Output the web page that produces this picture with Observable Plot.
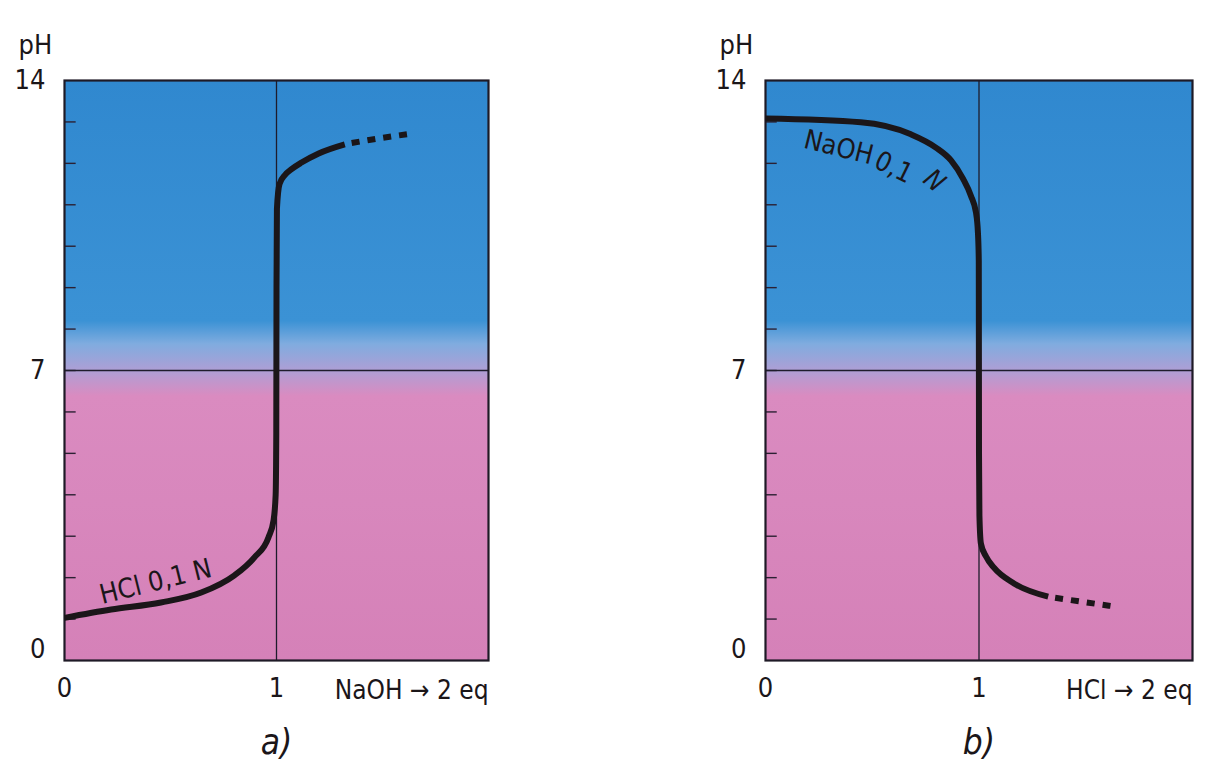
<!DOCTYPE html>
<html><head><meta charset="utf-8">
<script src="https://cdn.jsdelivr.net/npm/d3@7"></script>
<script src="https://cdn.jsdelivr.net/npm/@observablehq/plot@0.6"></script>
<style>
html,body{margin:0;padding:0;background:#fff;}
#wrap{display:flex;width:1218px;height:763px;overflow:hidden;}
#wrap svg{display:block;flex:none;}
</style></head><body><div id="wrap"></div>
<script>
// ---- data (equivalents of titrant added, pH) ----
const aSolidEq = [0, 0.22, 0.455, 0.645, 0.80, 0.896, 0.962, 0.986, 0.996, 0.999, 1.0, 1.002, 1.014, 1.04, 1.071, 1.118, 1.199, 1.322];
const aSolidPH = [1.03, 1.23, 1.40, 1.64, 2.05, 2.49, 2.97, 3.38, 4.0, 5.5, 9.0, 10.9, 11.5, 11.72, 11.86, 12.02, 12.24, 12.46];
const aDashEq  = [1.322, 1.48, 1.64];
const aDashPH  = [12.46, 12.6, 12.72];

const bSolidEq = [0, 0.446, 0.681, 0.798, 0.869, 0.925, 0.962, 0.986, 0.995, 0.999, 1.0, 1.002, 1.009, 1.033, 1.07, 1.164, 1.324];
const bSolidPH = [13.08, 12.99, 12.70, 12.38, 12.07, 11.63, 11.22, 10.81, 10.33, 9.65, 5.0, 3.5, 2.82, 2.51, 2.24, 1.86, 1.54];
const bDashEq  = [1.324, 1.48, 1.64];
const bDashPH  = [1.54, 1.42, 1.30];

const pHTicks = [1, 2, 3, 4, 5, 6, 7, 8, 9, 10, 11, 12, 13];
const pHLabels = [14, 7];
const eqLabels = [0, 1];

const FONT = '"Liberation Sans Narrow","DejaVu Sans Condensed","Roboto Condensed","Liberation Sans",sans-serif';
const INK = "#1b1619";

const rows = (xs, ys) => xs.map((x, i) => ({eq: x, pH: ys[i]}));

function panel(o) {
  const svg = Plot.plot({
    width: 609, height: 763,
    marginTop: 80, marginBottom: 103, marginLeft: o.ml, marginRight: o.mr,
    x: {domain: [0, 2], axis: null},
    y: {domain: [0, 14], axis: null},
    style: {fontFamily: FONT, color: INK, background: "transparent", overflow: "visible"},
    marks: [
      Plot.rect([0], {x1: 0, x2: 2, y1: 0, y2: 14, fill: `url(#${o.id}-grad)`}),
      Plot.ruleY(pHTicks, {x1: 0, x2: 0.055, stroke: "#2b2033", strokeWidth: 1.4}),
      Plot.ruleY([7], {stroke: "#1e1c2c", strokeWidth: 1.3}),
      Plot.ruleX([1], {stroke: "#1e1c2c", strokeWidth: 1.3}),
      Plot.frame({stroke: "#1e1a26", strokeWidth: 2.2}),
      Plot.line(o.solid, {x: "eq", y: "pH", curve: "monotone-x", stroke: INK, strokeWidth: 6, strokeLinecap: "butt"}),
      Plot.line(o.dash, {x: "eq", y: "pH", curve: "monotone-x", stroke: INK, strokeWidth: 6, strokeDasharray: "8,8", strokeDashoffset: -7, strokeLinecap: "butt"}),
      Plot.text(pHLabels, {x: 0, y: d => d, text: d => String(d), textAnchor: "end", dx: -19, dy: 0, fontSize: 27, fill: INK}),
      Plot.text([0], {x: 0, y: d => d, text: d => String(d), textAnchor: "end", dx: -19, dy: -11, fontSize: 27, fill: INK}),
      Plot.text(["pH"], {x: 0, y: 14, text: d => d, textAnchor: "start", dx: -46, dy: -35, fontSize: 27, fill: INK}),
      Plot.text(eqLabels, {x: d => d, y: 0, text: d => String(d), dy: 28, fontSize: 27, fill: INK}),
      Plot.text([o.xLabel], {x: 2, y: 0, text: d => d, textAnchor: "end", dy: 30, fontSize: 26, fill: INK}),
      Plot.text([o.letter], {x: 1, y: 0, text: d => d, dy: 82, fontSize: 35, fontStyle: "italic", fill: INK}),
      Plot.text(o.curveLabel.filter(d => !d.it), {x: "x", y: "y", text: "t", rotate: "r", fontSize: 27, fill: INK}),
      Plot.text(o.curveLabel.filter(d => d.it), {x: "x", y: "y", text: "t", rotate: "r", fontSize: 27, fontStyle: "italic", fill: INK})
    ]
  });
  const root = svg.tagName.toLowerCase() === "svg" ? svg : svg.querySelector("svg");
  d3.select(root).insert("defs", ":first-child").html(`
    <linearGradient id="${o.id}-grad" x1="0" y1="0" x2="0" y2="1">
      <stop offset="0" stop-color="#3088cf"/>
      <stop offset="0.415" stop-color="#3b92d5"/>
      <stop offset="0.455" stop-color="#80acdf"/>
      <stop offset="0.5" stop-color="#ad9fd5"/>
      <stop offset="0.545" stop-color="#da8bc0"/>
      <stop offset="1" stop-color="#d581b8"/>
    </linearGradient>`);
  return svg;
}

const wrap = document.getElementById("wrap");
const a = panel({
  id: "pa", ml: 64, mr: 121,
  solid: rows(aSolidEq, aSolidPH), dash: rows(aDashEq, aDashPH),
  xLabel: "NaOH \u2192 2 eq", letter: "a)",
  curveLabel: [{t: "HCl 0,1 N", x: 0.43, y: 1.9, r: -14, it: false}]
});
const b = panel({
  id: "pb", ml: 156, mr: 26,
  solid: rows(bSolidEq, bSolidPH), dash: rows(bDashEq, bDashPH),
  xLabel: "HCl \u2192 2 eq", letter: "b)",
  curveLabel: [
    {t: "NaOH", x: 0.343, y: 12.38, r: 14, it: false},
    {t: "0,1", x: 0.60, y: 11.9, r: 26, it: false},
    {t: "N", x: 0.79, y: 11.58, r: 40, it: true}
  ]
});
wrap.appendChild(a);
wrap.appendChild(b);
</script></body></html>
